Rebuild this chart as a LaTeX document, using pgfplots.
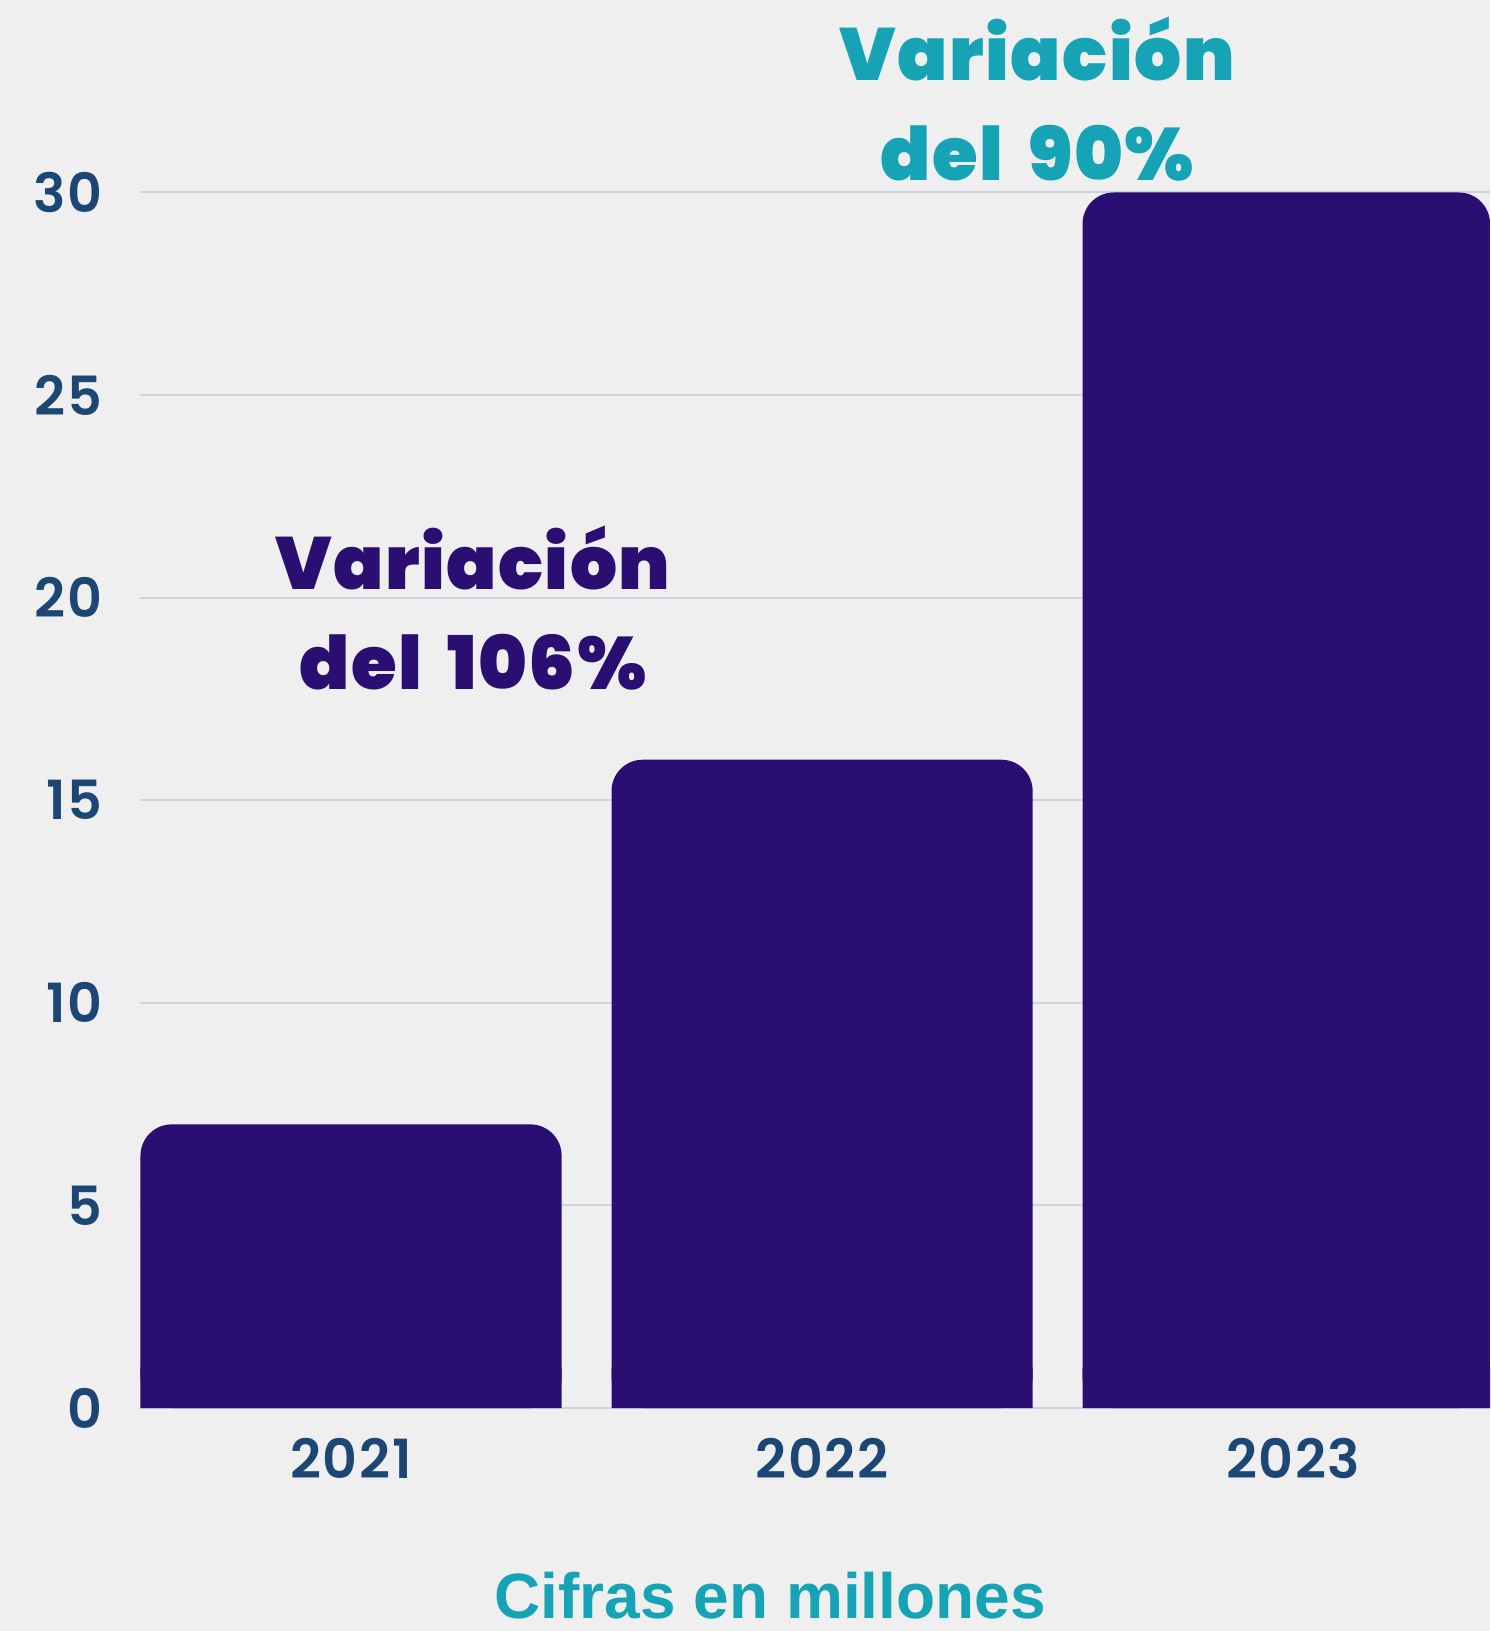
\documentclass[border=0pt]{standalone}
\usepackage{pgfplots}
\pgfplotsset{compat=1.18}
\usepackage{fontspec}
\usetikzlibrary{backgrounds}
\setmainfont{Poppins}
\newfontfamily\heavy{Poppins}[UprightFont={* Black}, LetterSpace=2, WordSpace=1.8]
\newfontfamily\semi{Poppins}[UprightFont={* SemiBold}, LetterSpace=3]
\newfontfamily\arialb{Liberation Sans}
\definecolor{barcol}{HTML}{2B0E72}
\definecolor{vteal}{HTML}{16A3B6}
\definecolor{tickcol}{HTML}{1C4774}
\definecolor{gridcol}{HTML}{CBD5DF}
\definecolor{bgcol}{HTML}{EFEFEF}

\begin{document}
\begin{tikzpicture}
\begin{axis}[
    name=ax, scale only axis,
    width=337.4pt, height=303.9pt,
    xmin=-0.447, xmax=2.418, ymin=0, ymax=30,
    xtick={0,1,2}, xticklabels={2021,2022,2023},
    ytick={0,5,...,30},
    ymajorgrids, grid style={gridcol, line width=0.5pt},
    axis x line*=bottom, axis y line*=left,
    x axis line style={gridcol, line width=0.6pt, -},
    y axis line style={draw=none},
    major tick length=0pt,
    tick label style={font=\semi\fontsize{13.5}{13.5}\selectfont, text=tickcol},
    xticklabel style={yshift=-4pt},
    yticklabel style={xshift=-6pt},
    /pgf/number format/assume math mode=true,
    clip mode=individual,
    ybar, bar width=0.894,
]
% values in millions
\addplot[fill=barcol, draw=none, bar shift=0pt, rounded corners=7.8pt]
    coordinates {(0,7) (1,16) (2,30)};
% square off the bottom corners
\addplot[fill=barcol, draw=none, bar shift=0pt]
    coordinates {(0,1) (1,1) (2,1)};

\node[font=\heavy\fontsize{18.5}{25}\selectfont, text=barcol, align=center]
    at (axis cs:0.259,19.75) {Variación\\del 106\%};
\node[font=\heavy\fontsize{18.5}{25}\selectfont, text=vteal, align=center]
    at (axis cs:1.457,32.3) {Variación\\del 90\%};
\node[font=\arialb\bfseries\fontsize{16}{16}\selectfont, text=vteal]
    at (axis cs:0.89,-4.62) {Cifras en millones};
\end{axis}
\pgfresetboundingbox
\path ([xshift=-35.125pt,yshift=-55.75pt]ax.south west) rectangle ([yshift=48.125pt]ax.north east);
\begin{scope}[on background layer]
\fill[bgcol] ([xshift=-35.125pt,yshift=-55.75pt]ax.south west) rectangle ([yshift=48.125pt]ax.north east);
\end{scope}
\end{tikzpicture}
\end{document}
